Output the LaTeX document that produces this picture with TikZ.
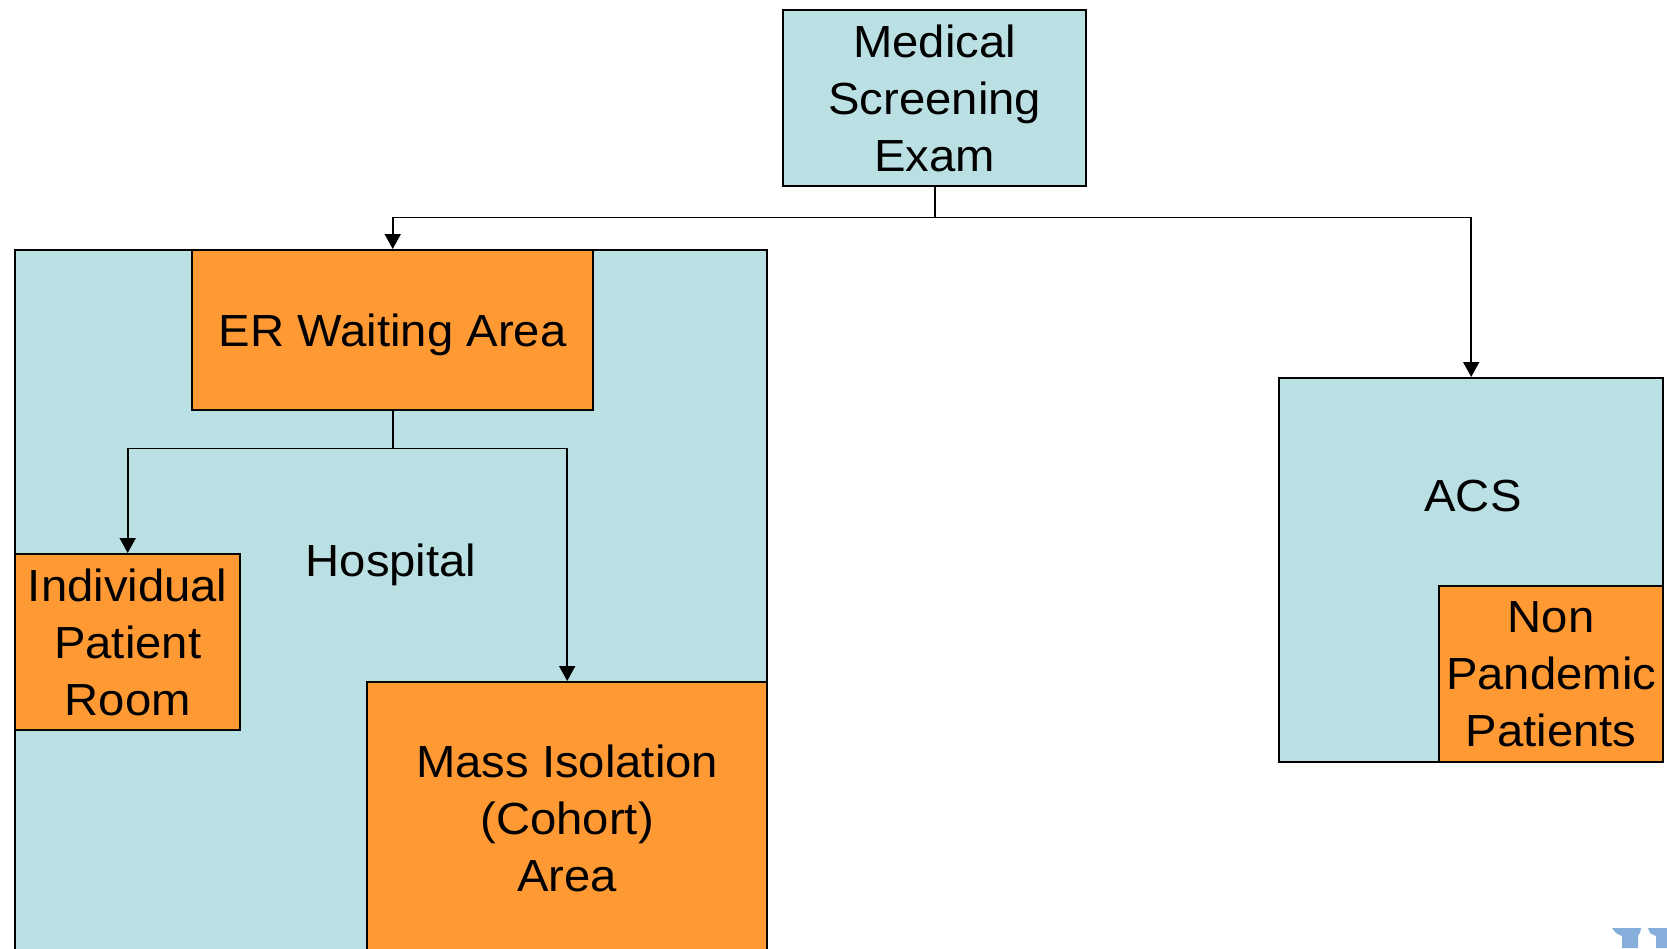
\documentclass[tikz,border=0pt]{standalone}
\usepackage{fontspec}
\setmainfont{Liberation Sans}[FakeStretch=1.05]
\usetikzlibrary{arrows.meta}
\definecolor{lblue}{HTML}{BBE0E3}
\definecolor{orng}{HTML}{FF9933}
\definecolor{logoblue}{HTML}{86AEDB}
\tikzset{
  boxbase/.style={draw=black, line width=2.4pt, rectangle, inner sep=0pt, anchor=north west, align=center,
    font=\fontsize{45}{57}\selectfont},
  bluebox/.style={boxbase, fill=lblue},
  orangebox/.style={boxbase, fill=orng},
  lbl/.style={inner sep=0pt, font=\fontsize{45}{57}\selectfont},
  conn/.style={draw=black, line width=1.8pt},
  arr/.style={conn, -{Triangle[length=15pt,width=16pt]}}
}
\begin{document}
\begin{tikzpicture}[x=1pt,y=-1pt]
\useasboundingbox[fill=white] (0,0) rectangle (1667,948);
% Medical screening
\node[bluebox, minimum width=303pt, minimum height=176pt] (med) at (782,9) {Medical\\Screening\\Exam};
% Hospital container
\node[bluebox, minimum width=752pt, minimum height=720pt] (hosp) at (14,249) {};
\node[lbl] (hosplbl) at (391,565) {Hospital};
% ER
\node[orangebox, minimum width=401pt, minimum height=160pt, text depth=0pt] (er) at (191,249) {ER Waiting Area};
% Individual
\node[orangebox, minimum width=225pt, minimum height=176pt] (ind) at (14,553) {Individual\\Patient\\Room};
% Mass isolation
\node[orangebox, minimum width=400pt, minimum height=272pt] (mass) at (366,681) {Mass Isolation\\(Cohort)\\Area};
% ACS
\node[bluebox, minimum width=384pt, minimum height=384pt] (acs) at (1278,377) {};
\node[lbl] (acslbl) at (1473,496) {ACS};
\node[orangebox, minimum width=224pt, minimum height=176pt] (nonp) at (1438,585) {Non\\Pandemic\\Patients};
% connectors
\coordinate (j1) at ([yshift=-30pt]med.south);
\coordinate (j2) at ([yshift=-37pt]er.south);
\draw[conn] (med.south) -- (j1);
\draw[arr] (j1) -| (er.north);
\draw[arr] (j1) -| (acs.north);
\draw[conn] (er.south) -- (j2);
\draw[arr] (j2) -| (ind.north);
\draw[arr] (j2) -| (mass.north);
% logo fragment
\fill[logoblue] (1612,928) -- (1641,928) -- (1640,933) -- (1638,935) -- (1638,948) -- (1622,948) -- (1622,936) -- (1616,933) -- cycle;
\fill[logoblue] (1648,928) -- (1667,928) -- (1667,948) -- (1656,948) -- (1656,936) -- (1650,933) -- cycle;
\end{tikzpicture}
\end{document}
